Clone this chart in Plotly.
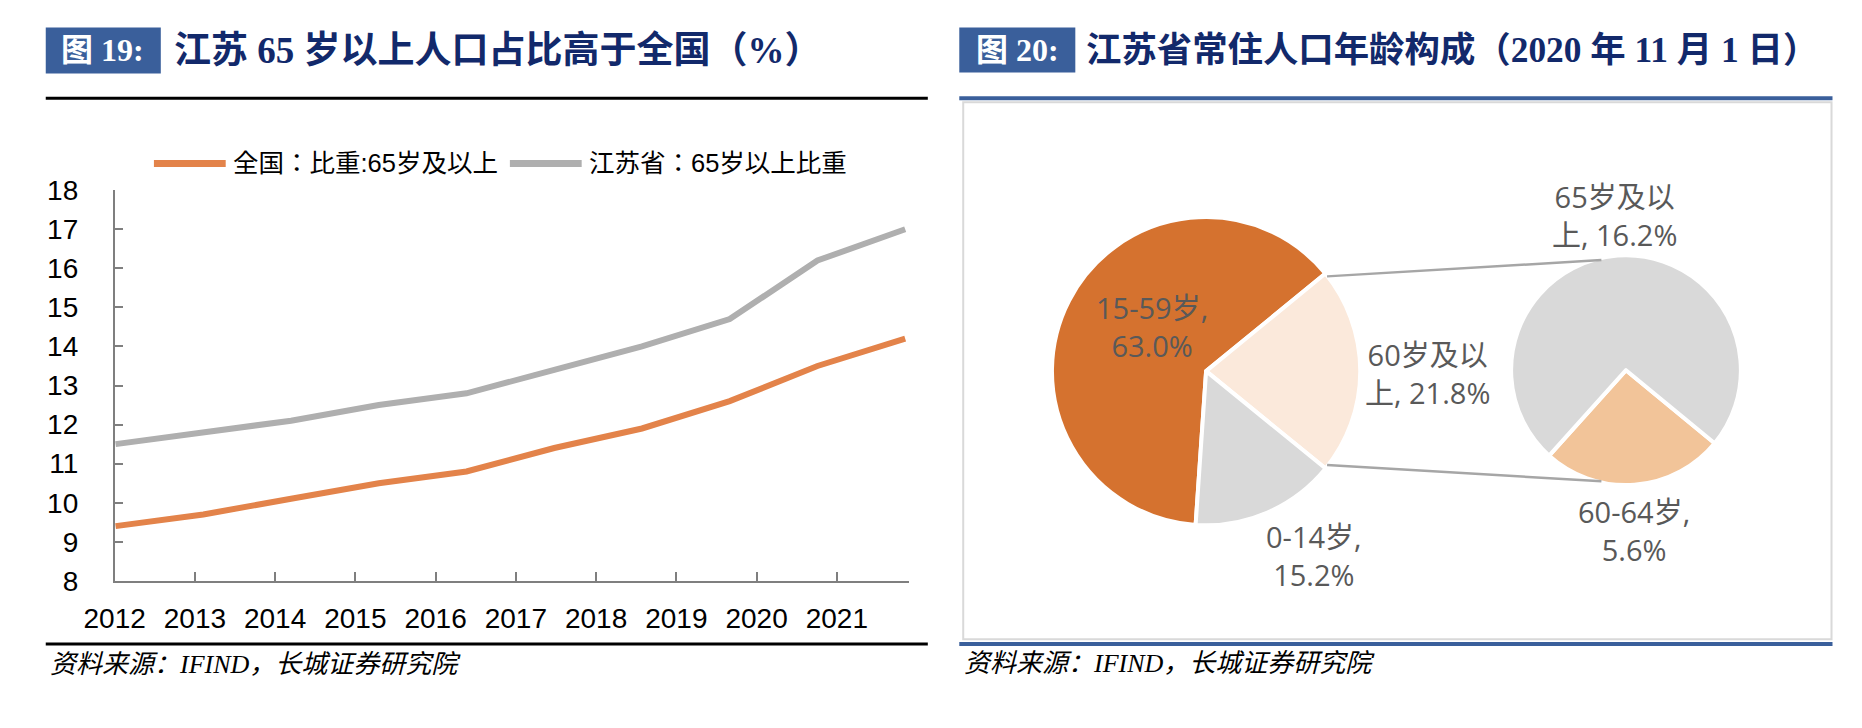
import plotly.graph_objects as go

# ---------------- data ----------------
years = [2012, 2013, 2014, 2015, 2016, 2017, 2018, 2019, 2020, 2021]
year_labels = ["2012", "2013", "2014", "2015", "2016", "2017", "2018", "2019", "2020", "2021"]
series_names = ["全国：比重:65岁及以上", "江苏省：65岁以上比重"]
china_65 = [9.4, 9.7, 10.1, 10.5, 10.8, 11.4, 11.9, 12.6, 13.5, 14.2]
jiangsu_65 = [11.5, 11.8, 12.1, 12.5, 12.8, 13.4, 14.0, 14.7, 16.2, 17.0]

main_labels = ["15-59岁", "60岁及以上", "0-14岁"]
main_values = [63.0, 21.8, 15.2]
sub_labels = ["60-64岁", "65岁及以上"]
sub_values = [5.6, 16.2]

y_ticks = [8, 9, 10, 11, 12, 13, 14, 15, 16, 17, 18]

# ---------------- layout helpers ----------------
W, H = 1862, 728


def fx(px):
    return px / W


def fy(py):
    return 1 - py / H


ORANGE = "#E3834A"
GRAY = "#AFAFAF"
NAVY = "#12296B"
BLUE = "#3A5F9B"
LABEL = "#595959"
CJK = "Noto Sans CJK SC"
SANS = "Liberation Sans, Arial, " + CJK
LEG_FONT = "Liberation Sans, Arial, Noto Sans CJK JP"
PIE_FONT = "Open Sans, " + CJK
SERIF = "Liberation Serif, " + CJK

# line chart geometry (pixels)
AX_LEFT, AX_RIGHT, AX_TOP, AX_BOTTOM = 85, 893, 183, 591
LINE_LEFT, LINE_RIGHT = 86, 889
TICK_STEP_PX = 81.6
ppy = (LINE_RIGHT - LINE_LEFT) / (years[-1] - years[0])
x_lo = years[0] - (LINE_LEFT - AX_LEFT) / ppy
x_hi = years[-1] + (AX_RIGHT - LINE_RIGHT) / ppy
tick_pos = [x_lo + (k * TICK_STEP_PX + 0.05) / ppy for k in range(len(year_labels))]

fig = go.Figure()

fig.add_trace(go.Scatter(x=years, y=china_65, mode="lines", name=series_names[0],
                         line=dict(color=ORANGE, width=6), hoverinfo="skip"))
fig.add_trace(go.Scatter(x=years, y=jiangsu_65, mode="lines", name=series_names[1],
                         line=dict(color=GRAY, width=6), hoverinfo="skip"))

# pie-of-pie (main pie + secondary pie)
main_rot = 180 + 3.9  # start of 15-59 slice (clockwise from 12 o'clock)
fig.add_trace(go.Pie(labels=main_labels, values=main_values, sort=False, direction="clockwise",
                     rotation=main_rot, textinfo="none", hoverinfo="skip", showlegend=False,
                     marker=dict(colors=["#D5722F", "#FBE9DB", "#D9D9D9"],
                                 line=dict(color="white", width=4)),
                     domain=dict(x=[fx(1034), fx(1356)], y=[fy(533), fy(211)])))
fig.add_trace(go.Pie(labels=sub_labels, values=sub_values, sort=False, direction="clockwise",
                     rotation=129.5, textinfo="none", hoverinfo="skip", showlegend=False,
                     marker=dict(colors=["#F2C499", "#D9D9D9"],
                                 line=dict(color="white", width=4)),
                     domain=dict(x=[fx(1502), fx(1742)], y=[fy(491), fy(251)])))

shapes = []
annotations = []

# ---- left panel frame ----
shapes.append(dict(type="rect", xref="paper", yref="paper", x0=fx(15), x1=fx(132), y0=fy(61), y1=fy(13),
                   fillcolor=BLUE, line=dict(width=0), layer="below"))
shapes.append(dict(type="line", xref="paper", yref="paper", x0=fx(15), x1=fx(912), y0=fy(87), y1=fy(87),
                   line=dict(color="black", width=3)))
shapes.append(dict(type="line", xref="paper", yref="paper", x0=fx(15), x1=fx(912), y0=fy(657), y1=fy(657),
                   line=dict(color="black", width=3)))
annotations.append(dict(xref="paper", yref="paper", x=fx(73), y=fy(37), text="<b>图 19:</b>", showarrow=False,
                        xanchor="center", yanchor="middle",
                        font=dict(family=SERIF, size=32, color="white")))
annotations.append(dict(xref="paper", yref="paper", x=fx(143), y=fy(37),
                        text="<b>江苏 65 岁以上人口占比高于全国（%）</b>", showarrow=False,
                        xanchor="left", yanchor="middle",
                        font=dict(family=SERIF, size=37, color=NAVY)))
annotations.append(dict(xref="paper", yref="paper", x=fx(17), y=fy(678),
                        text="资料来源：IFIND，长城证券研究院", showarrow=False,
                        xanchor="left", yanchor="middle",
                        font=dict(family=SERIF, size=26, color="black", style="italic")))

# ---- manual legend ----
leg = [(125, 198, 203, ORANGE, series_names[0]), (487, 560, 565, GRAY, series_names[1])]
for x0, x1, tx, col, name in leg:
    shapes.append(dict(type="line", xref="paper", yref="paper", x0=fx(x0), x1=fx(x1), y0=fy(155), y1=fy(155),
                       line=dict(color=col, width=7)))
    annotations.append(dict(xref="paper", yref="paper", x=fx(tx), y=fy(155), text=name, showarrow=False,
                            xanchor="left", yanchor="middle",
                            font=dict(family=LEG_FONT, size=25.5, color="black")))

# ---- right panel frame ----
shapes.append(dict(type="rect", xref="paper", yref="paper", x0=fx(944), x1=fx(1062), y0=fy(60), y1=fy(13),
                   fillcolor=BLUE, line=dict(width=0), layer="below"))
shapes.append(dict(type="rect", xref="paper", yref="paper", x0=fx(948), x1=fx(1831), y0=fy(652), y1=fy(91),
                   line=dict(color="#D9D9D9", width=2), layer="below"))
shapes.append(dict(type="line", xref="paper", yref="paper", x0=fx(944), x1=fx(1832), y0=fy(87), y1=fy(87),
                   line=dict(color=BLUE, width=4)))
shapes.append(dict(type="line", xref="paper", yref="paper", x0=fx(944), x1=fx(1832), y0=fy(657), y1=fy(657),
                   line=dict(color=BLUE, width=4)))
annotations.append(dict(xref="paper", yref="paper", x=fx(1003), y=fy(37), text="<b>图 20:</b>", showarrow=False,
                        xanchor="center", yanchor="middle",
                        font=dict(family=SERIF, size=32, color="white")))
annotations.append(dict(xref="paper", yref="paper", x=fx(1071), y=fy(37),
                        text="<b>江苏省常住人口年龄构成（2020 年 11 月 1 日）</b>", showarrow=False,
                        xanchor="left", yanchor="middle",
                        font=dict(family=SERIF, size=35.4, color=NAVY)))
annotations.append(dict(xref="paper", yref="paper", x=fx(947), y=fy(677),
                        text="资料来源：IFIND，长城证券研究院", showarrow=False,
                        xanchor="left", yanchor="middle",
                        font=dict(family=SERIF, size=26, color="black", style="italic")))

# connector lines between pies
for (a, b) in [((1318, 273), (1597, 256)), ((1318, 470), (1597, 487))]:
    shapes.append(dict(type="line", xref="paper", yref="paper", x0=fx(a[0]), y0=fy(a[1]), x1=fx(b[0]), y1=fy(b[1]),
                       line=dict(color="#A6A6A6", width=2.5)))


# pie data labels
def wrap_label(name, val):
    txt = f"{name}, {val:.1f}%"
    if "及以上" in name:
        # Excel wraps after "以"
        cut = txt.index("上")
        return txt[:cut] + "<br>" + txt[cut:]
    return f"{name},<br>{val:.1f}%"


label_pos = {
    "15-59岁": (1140, 325),
    "60岁及以上": (1420, 374),
    "0-14岁": (1305, 565),
    "65岁及以上": (1610, 209),
    "60-64岁": (1630, 538),
}
for name, val in list(zip(main_labels, main_values)) + list(zip(sub_labels, sub_values)):
    px, py = label_pos[name]
    annotations.append(dict(xref="paper", yref="paper", x=fx(px), y=fy(py), text=wrap_label(name, val),
                            showarrow=False, xanchor="center", yanchor="middle", align="center",
                            font=dict(family=PIE_FONT, size=29, color=LABEL)))

fig.update_layout(
    width=W, height=H, margin=dict(l=0, r=0, t=0, b=0),
    paper_bgcolor="white", plot_bgcolor="white", showlegend=False,
    shapes=shapes, annotations=annotations,
    xaxis=dict(domain=[fx(AX_LEFT), fx(AX_RIGHT)], range=[x_lo, x_hi], tickmode="array",
               tickvals=tick_pos, ticktext=year_labels, ticks="inside", ticklen=9, tickwidth=1.5,
               tickcolor="#7F7F7F", showline=True, linecolor="#7F7F7F", linewidth=1.5,
               showgrid=False, zeroline=False, ticklabelstandoff=12,
               tickfont=dict(family=SANS, size=28, color="black"), fixedrange=True),
    yaxis=dict(domain=[fy(AX_BOTTOM), fy(AX_TOP)], range=[8, 18], tickmode="array", tickvals=y_ticks,
               ticktext=[str(v) for v in y_ticks], ticks="inside", ticklen=9, tickwidth=1.5,
               tickcolor="#7F7F7F", showline=True, linecolor="#7F7F7F", linewidth=1.5,
               showgrid=False, zeroline=False, ticklabelstandoff=29,
               tickfont=dict(family=SANS, size=28, color="black"), fixedrange=True),
)

fig.write_html("out.html", config={"displayModeBar": False},
               post_script="document.body.style.margin='0px';document.body.style.overflow='hidden';")
